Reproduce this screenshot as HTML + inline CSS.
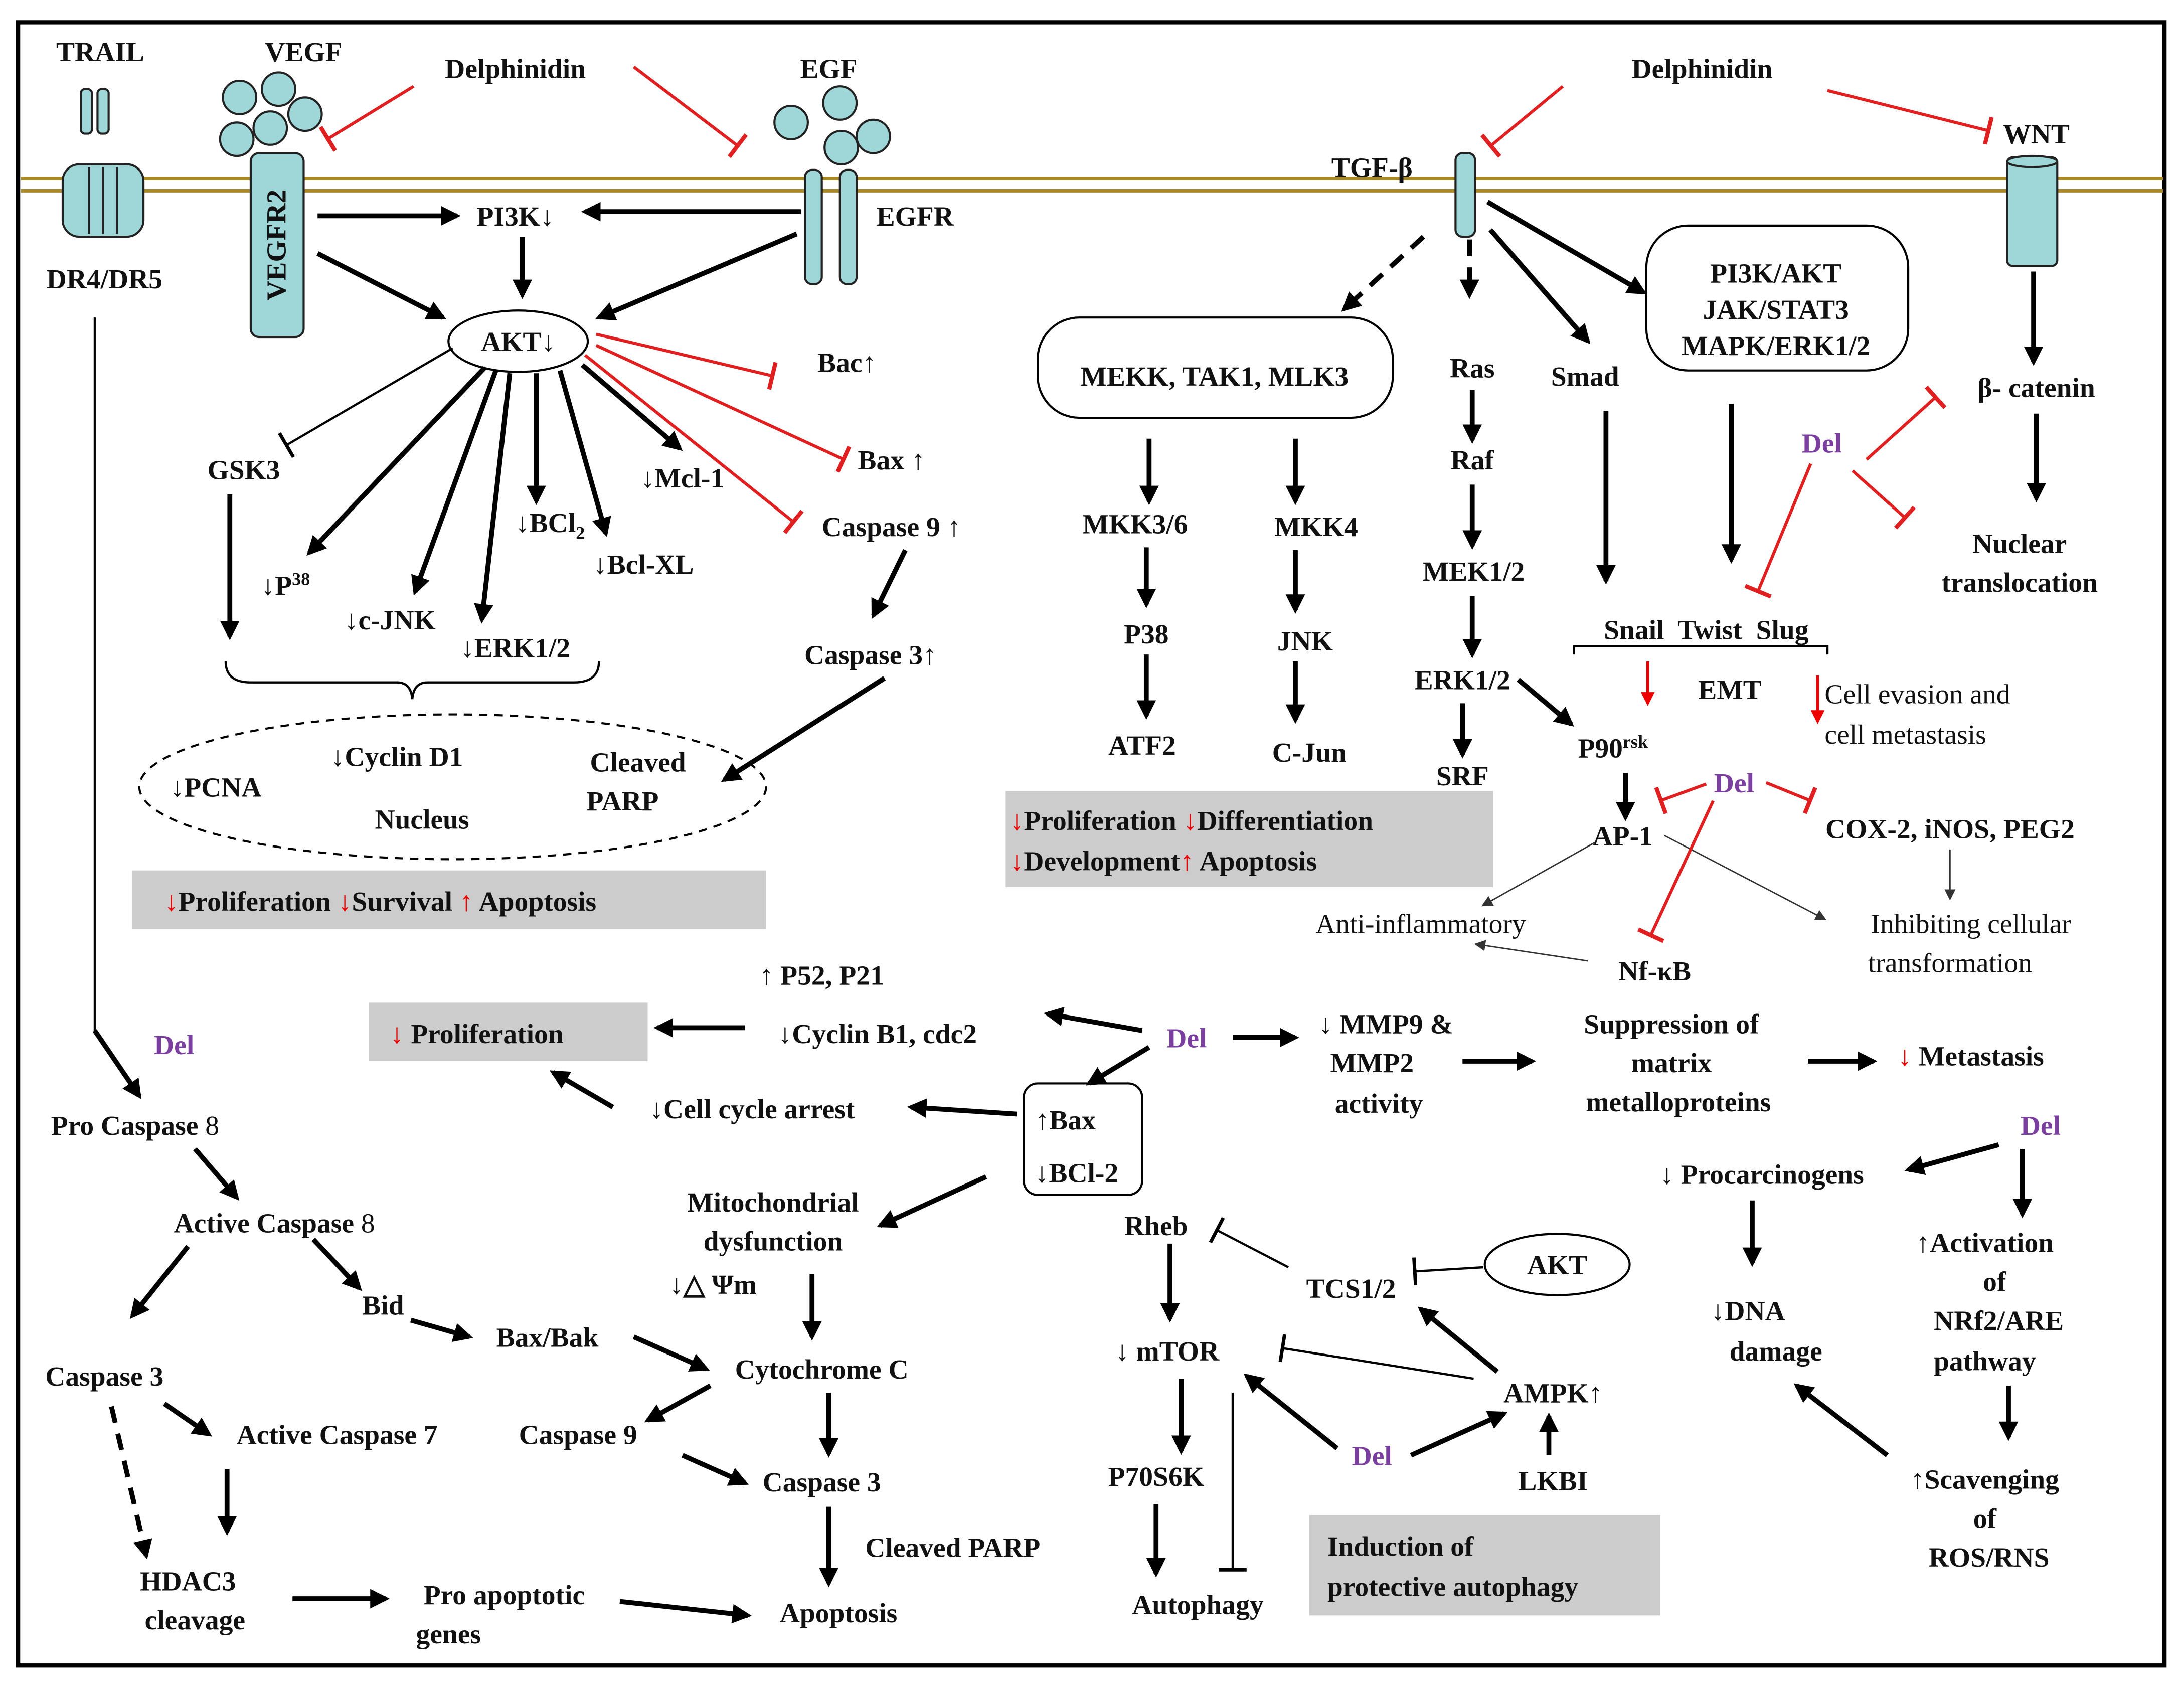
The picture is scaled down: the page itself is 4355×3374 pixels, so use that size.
<!DOCTYPE html>
<html><head><meta charset="utf-8"><style>
html,body{margin:0;padding:0;background:#fff}
svg{display:block}
text{font-family:"Liberation Serif",serif;font-weight:bold;font-size:20px;fill:#111}
.n{font-weight:normal}
.p{fill:#7b3fa0}
.r{fill:#e00}
.b{stroke:#000;stroke-width:3.5;fill:none}
.t{stroke:#e02020;stroke-width:2.2;fill:none}
.k{stroke:#000;stroke-width:1.6;fill:none}
.g{stroke:#333;stroke-width:1;fill:none}
</style></head><body>
<svg width="4355" height="3374" viewBox="0 0 1568 1215" preserveAspectRatio="none" xmlns="http://www.w3.org/2000/svg">
<defs>
<marker id="a" viewBox="0 0 10 10" refX="8" refY="5" markerWidth="4" markerHeight="4" orient="auto" markerUnits="strokeWidth"><path d="M0,0L10,5L0,10z" fill="#000"/></marker>
<marker id="ag" viewBox="0 0 10 10" refX="8" refY="5" markerWidth="8" markerHeight="8" orient="auto" markerUnits="strokeWidth"><path d="M0,0L10,5L0,10z" fill="#333"/></marker>
<marker id="ra" viewBox="0 0 10 10" refX="8" refY="5" markerWidth="5" markerHeight="5" orient="auto" markerUnits="strokeWidth"><path d="M0,0L10,5L0,10z" fill="#e00"/></marker>
<marker id="tr" viewBox="0 0 4 20" refX="2" refY="10" markerWidth="4" markerHeight="20" orient="auto" markerUnits="userSpaceOnUse"><rect x="0" y="0" width="3" height="20" fill="#e02020"/></marker>
<marker id="tk" viewBox="0 0 4 20" refX="2" refY="10" markerWidth="4" markerHeight="20" orient="auto" markerUnits="userSpaceOnUse"><rect x="0" y="0" width="2.5" height="20" fill="#000"/></marker>
</defs>
<rect x="0" y="0" width="1568" height="1215" fill="#fff"/>
<rect x="13" y="16" width="1541" height="1180" fill="none" stroke="#000" stroke-width="3"/>
<line x1="15" y1="128" x2="1553" y2="128" stroke="#a8892a" stroke-width="2.5"/>
<line x1="15" y1="137" x2="1553" y2="137" stroke="#a8892a" stroke-width="2.5"/>

<g fill="#9fd6d8" stroke="#222" stroke-width="1.5">
<rect x="58" y="64" width="8" height="32" rx="3"/><rect x="70" y="64" width="8" height="32" rx="3"/>
<rect x="45" y="118" width="58" height="52" rx="12"/>
<circle cx="172" cy="70" r="12"/><circle cx="200" cy="64" r="12"/><circle cx="219" cy="82" r="12"/><circle cx="194" cy="92" r="12"/><circle cx="170" cy="100" r="12"/>
<rect x="180" y="110" width="38" height="132" rx="6"/>
<circle cx="568" cy="88" r="12"/><circle cx="603" cy="74" r="12"/><circle cx="627" cy="98" r="12"/><circle cx="604" cy="106" r="12"/>
<rect x="578" y="122" width="12" height="82" rx="5"/><rect x="603" y="122" width="12" height="82" rx="5"/>
<rect x="1045" y="110" width="14" height="60" rx="5"/>
<rect x="1441" y="113" width="36" height="78" rx="4"/>
</g>
<line x1="64" y1="120" x2="64" y2="168" stroke="#222" stroke-width="1.5"/><line x1="74" y1="120" x2="74" y2="168" stroke="#222" stroke-width="1.5"/><line x1="84" y1="120" x2="84" y2="168" stroke="#222" stroke-width="1.5"/>
<ellipse cx="1459" cy="116" rx="18" ry="4" fill="#9fd6d8" stroke="#222" stroke-width="1.5"/>
<text x="205" y="176" text-anchor="middle" transform="rotate(-90 205 176)">VEGFR2</text>

<text x="72" y="44" text-anchor="middle">TRAIL</text>
<text x="218" y="44" text-anchor="middle">VEGF</text>
<text x="370" y="56" text-anchor="middle">Delphinidin</text>
<text x="595" y="56" text-anchor="middle">EGF</text>
<text x="1222" y="56" text-anchor="middle">Delphinidin</text>
<text x="1462" y="103" text-anchor="middle">WNT</text>
<text x="985" y="127" text-anchor="middle">TGF-β</text>
<text x="75" y="207" text-anchor="middle">DR4/DR5</text>
<text x="370" y="162" text-anchor="middle">PI3K↓</text>
<text x="657" y="162" text-anchor="middle">EGFR</text>
<ellipse cx="372" cy="245" rx="50" ry="22" fill="#fff" stroke="#000" stroke-width="1.5"/>
<text x="372" y="252" text-anchor="middle">AKT↓</text>
<text x="608" y="267" text-anchor="middle">Bac↑</text>
<text x="640" y="337" text-anchor="middle">Bax ↑</text>
<text x="640" y="385" text-anchor="middle">Caspase 9 ↑</text>
<text x="490" y="350" text-anchor="middle">↓Mcl-1</text>
<text x="175" y="344" text-anchor="middle">GSK3</text>
<text x="395" y="382" text-anchor="middle">↓BCl<tspan font-size="13" dy="5">2</tspan></text>
<text x="462" y="412" text-anchor="middle">↓Bcl-XL</text>
<text x="205" y="427" text-anchor="middle">↓P<tspan font-size="13" dy="-7">38</tspan></text>
<text x="280" y="452" text-anchor="middle">↓c-JNK</text>
<text x="370" y="472" text-anchor="middle">↓ERK1/2</text>
<text x="625" y="477" text-anchor="middle">Caspase 3↑</text>
<path d="M162,475 Q162,490 180,490 L285,490 Q295,490 296,502 Q297,490 307,490 L412,490 Q430,490 430,475" class="k"/>
<ellipse cx="325" cy="565" rx="225" ry="52" fill="none" stroke="#000" stroke-width="1.5" stroke-dasharray="6,5"/>
<text x="285" y="550" text-anchor="middle">↓Cyclin D1</text>
<text x="155" y="572" text-anchor="middle">↓PCNA</text>
<text x="303" y="595" text-anchor="middle">Nucleus</text>
<text x="458" y="554" text-anchor="middle">Cleaved</text>
<text x="447" y="582" text-anchor="middle">PARP</text>
<rect x="95" y="625" width="455" height="42" fill="#ccc"/>
<text x="118" y="654"><tspan class="r">↓</tspan>Proliferation <tspan class="r">↓</tspan>Survival <tspan class="r">↑</tspan> Apoptosis</text>

<rect x="745" y="228" width="255" height="72" rx="30" fill="#fff" stroke="#000" stroke-width="1.5"/>
<text x="872" y="277" text-anchor="middle">MEKK, TAK1, MLK3</text>
<text x="815" y="383" text-anchor="middle">MKK3/6</text>
<text x="945" y="385" text-anchor="middle">MKK4</text>
<text x="823" y="462" text-anchor="middle">P38</text>
<text x="937" y="467" text-anchor="middle">JNK</text>
<text x="820" y="542" text-anchor="middle">ATF2</text>
<text x="940" y="547" text-anchor="middle">C-Jun</text>
<rect x="722" y="568" width="350" height="69" fill="#ccc"/>
<text x="725" y="596"><tspan class="r">↓</tspan>Proliferation <tspan class="r">↓</tspan>Differentiation</text>
<text x="725" y="625"><tspan class="r">↓</tspan>Development<tspan class="r">↑</tspan> Apoptosis</text>

<text x="1057" y="271" text-anchor="middle">Ras</text>
<text x="1057" y="337" text-anchor="middle">Raf</text>
<text x="1058" y="417" text-anchor="middle">MEK1/2</text>
<text x="1050" y="495" text-anchor="middle">ERK1/2</text>
<text x="1050" y="564" text-anchor="middle">SRF</text>
<text x="1158" y="544" text-anchor="middle">P90<tspan font-size="13" dy="-7">rsk</tspan></text>
<text x="1138" y="277" text-anchor="middle">Smad</text>
<rect x="1182" y="162" width="188" height="104" rx="30" fill="#fff" stroke="#000" stroke-width="1.5"/>
<text x="1275" y="203" text-anchor="middle" font-size="19">PI3K/AKT</text>
<text x="1275" y="229" text-anchor="middle" font-size="19">JAK/STAT3</text>
<text x="1275" y="255" text-anchor="middle" font-size="19">MAPK/ERK1/2</text>
<text x="1462" y="285" text-anchor="middle">β- catenin</text>
<text x="1308" y="325" text-anchor="middle" class="p">Del</text>
<text x="1450" y="397" text-anchor="middle">Nuclear</text>
<text x="1450" y="425" text-anchor="middle">translocation</text>
<text x="1225" y="459" text-anchor="middle" xml:space="preserve">Snail  Twist  Slug</text>
<path d="M1130,470 L1130,464 L1312,464 L1312,470" class="k"/>
<text x="1242" y="502" text-anchor="middle">EMT</text>
<text x="1310" y="505" class="n">Cell evasion and</text>
<text x="1310" y="534" class="n">cell metastasis</text>
<text x="1245" y="569" text-anchor="middle" class="p">Del</text>
<text x="1165" y="607" text-anchor="middle">AP-1</text>
<text x="1400" y="602" text-anchor="middle">COX-2, iNOS, PEG2</text>
<text x="1020" y="670" text-anchor="middle" class="n">Anti-inflammatory</text>
<text x="1415" y="670" text-anchor="middle" class="n">Inhibiting cellular</text>
<text x="1400" y="698" text-anchor="middle" class="n">transformation</text>
<text x="1188" y="704" text-anchor="middle">Nf-κB</text>

<text x="590" y="707" text-anchor="middle">↑ P52, P21</text>
<rect x="265" y="720" width="200" height="42" fill="#ccc"/>
<text x="280" y="749"><tspan class="r">↓</tspan> Proliferation</text>
<text x="630" y="749" text-anchor="middle">↓Cyclin B1, cdc2</text>
<text x="852" y="752" text-anchor="middle" class="p">Del</text>
<text x="995" y="742" text-anchor="middle">↓ MMP9  &amp;</text>
<text x="985" y="770" text-anchor="middle">MMP2</text>
<text x="990" y="799" text-anchor="middle">activity</text>
<text x="1200" y="742" text-anchor="middle">Suppression of</text>
<text x="1200" y="770" text-anchor="middle">matrix</text>
<text x="1205" y="798" text-anchor="middle">metalloproteins</text>
<text x="1415" y="765" text-anchor="middle"><tspan class="r">↓</tspan> Metastasis</text>
<text x="540" y="803" text-anchor="middle">↓Cell cycle arrest</text>
<rect x="735" y="778" width="85" height="80" rx="10" fill="none" stroke="#000" stroke-width="1.5"/>
<text x="765" y="811" text-anchor="middle">↑Bax</text>
<text x="773" y="849" text-anchor="middle">↓BCl-2</text>

<text x="125" y="757" text-anchor="middle" class="p">Del</text>
<text x="97" y="815" text-anchor="middle">Pro Caspase <tspan class="n">8</tspan></text>
<text x="197" y="885" text-anchor="middle">Active Caspase <tspan class="n">8</tspan></text>
<text x="275" y="944" text-anchor="middle">Bid</text>
<text x="393" y="967" text-anchor="middle">Bax/Bak</text>
<text x="75" y="995" text-anchor="middle">Caspase 3</text>
<text x="242" y="1037" text-anchor="middle">Active Caspase 7</text>
<text x="135" y="1142" text-anchor="middle">HDAC3</text>
<text x="140" y="1170" text-anchor="middle">cleavage</text>
<text x="362" y="1152" text-anchor="middle">Pro apoptotic</text>
<text x="322" y="1180" text-anchor="middle">genes</text>
<text x="602" y="1165" text-anchor="middle">Apoptosis</text>
<text x="684" y="1118" text-anchor="middle">Cleaved PARP</text>
<text x="590" y="1071" text-anchor="middle">Caspase 3</text>
<text x="415" y="1037" text-anchor="middle">Caspase 9</text>
<text x="590" y="990" text-anchor="middle">Cytochrome C</text>
<text x="555" y="870" text-anchor="middle">Mitochondrial</text>
<text x="555" y="898" text-anchor="middle">dysfunction</text>
<text x="512" y="929" text-anchor="middle">↓△ Ψm</text>

<text x="830" y="887" text-anchor="middle">Rheb</text>
<text x="970" y="932" text-anchor="middle">TCS1/2</text>
<ellipse cx="1118" cy="908" rx="52" ry="22" fill="#fff" stroke="#000" stroke-width="1.5"/>
<text x="1118" y="915" text-anchor="middle">AKT</text>
<text x="838" y="977" text-anchor="middle">↓ mTOR</text>
<text x="1115" y="1007" text-anchor="middle">AMPK↑</text>
<text x="830" y="1067" text-anchor="middle">P70S6K</text>
<text x="985" y="1052" text-anchor="middle" class="p">Del</text>
<text x="1115" y="1070" text-anchor="middle">LKBI</text>
<text x="860" y="1159" text-anchor="middle">Autophagy</text>
<rect x="940" y="1088" width="252" height="72" fill="#ccc"/>
<text x="953" y="1117">Induction of</text>
<text x="953" y="1146">protective autophagy</text>

<text x="1465" y="815" text-anchor="middle" class="p">Del</text>
<text x="1265" y="850" text-anchor="middle">↓ Procarcinogens</text>
<text x="1425" y="899" text-anchor="middle">↑Activation</text>
<text x="1432" y="927" text-anchor="middle">of</text>
<text x="1435" y="955" text-anchor="middle">NRf2/ARE</text>
<text x="1425" y="984" text-anchor="middle">pathway</text>
<text x="1255" y="948" text-anchor="middle">↓DNA</text>
<text x="1275" y="977" text-anchor="middle">damage</text>
<text x="1425" y="1069" text-anchor="middle">↑Scavenging</text>
<text x="1425" y="1097" text-anchor="middle">of</text>
<text x="1428" y="1125" text-anchor="middle">ROS/RNS</text>

<g class="b" marker-end="url(#a)">
<line x1="228" y1="155" x2="328" y2="155"/>
<line x1="575" y1="152" x2="420" y2="152"/>
<line x1="375" y1="170" x2="375" y2="212"/>
<line x1="228" y1="182" x2="318" y2="228"/>
<line x1="572" y1="168" x2="430" y2="228"/>
<line x1="348" y1="264" x2="222" y2="397"/>
<line x1="356" y1="266" x2="298" y2="425"/>
<line x1="366" y1="268" x2="346" y2="445"/>
<line x1="385" y1="268" x2="385" y2="360"/>
<line x1="402" y1="266" x2="435" y2="383"/>
<line x1="418" y1="262" x2="488" y2="322"/>
<line x1="165" y1="355" x2="165" y2="457"/>
<line x1="650" y1="395" x2="627" y2="442"/>
<line x1="635" y1="487" x2="520" y2="560"/>
<line x1="1070" y1="165" x2="1140" y2="245"/>
<line x1="1068" y1="145" x2="1180" y2="210"/>
<line x1="825" y1="315" x2="825" y2="360"/>
<line x1="930" y1="315" x2="930" y2="360"/>
<line x1="823" y1="393" x2="823" y2="434"/>
<line x1="930" y1="395" x2="930" y2="438"/>
<line x1="823" y1="470" x2="823" y2="514"/>
<line x1="930" y1="475" x2="930" y2="517"/>
<line x1="1057" y1="280" x2="1057" y2="316"/>
<line x1="1057" y1="348" x2="1057" y2="392"/>
<line x1="1057" y1="428" x2="1057" y2="470"/>
<line x1="1050" y1="505" x2="1050" y2="542"/>
<line x1="1090" y1="488" x2="1128" y2="520"/>
<line x1="1167" y1="555" x2="1167" y2="587"/>
<line x1="1153" y1="295" x2="1153" y2="417"/>
<line x1="1243" y1="290" x2="1243" y2="402"/>
<line x1="1460" y1="195" x2="1460" y2="260"/>
<line x1="1462" y1="297" x2="1462" y2="358"/>
<line x1="820" y1="740" x2="752" y2="728"/>
<line x1="825" y1="752" x2="782" y2="778"/>
<line x1="885" y1="745" x2="930" y2="745"/>
<line x1="535" y1="738" x2="472" y2="738"/>
<line x1="440" y1="795" x2="397" y2="770"/>
<line x1="730" y1="800" x2="654" y2="795"/>
<line x1="708" y1="845" x2="632" y2="880"/>
<line x1="1050" y1="762" x2="1100" y2="762"/>
<line x1="1298" y1="762" x2="1345" y2="762"/>
<line x1="68" y1="740" x2="100" y2="787"/>
<line x1="140" y1="825" x2="170" y2="860"/>
<line x1="135" y1="895" x2="95" y2="945"/>
<line x1="225" y1="890" x2="258" y2="925"/>
<line x1="295" y1="948" x2="337" y2="960"/>
<line x1="455" y1="960" x2="507" y2="983"/>
<line x1="118" y1="1008" x2="150" y2="1030"/>
<line x1="163" y1="1055" x2="163" y2="1100"/>
<line x1="210" y1="1148" x2="277" y2="1148"/>
<line x1="445" y1="1150" x2="537" y2="1160"/>
<line x1="583" y1="915" x2="583" y2="960"/>
<line x1="510" y1="995" x2="465" y2="1020"/>
<line x1="595" y1="1000" x2="595" y2="1044"/>
<line x1="490" y1="1045" x2="535" y2="1065"/>
<line x1="595" y1="1082" x2="595" y2="1137"/>
<line x1="840" y1="893" x2="840" y2="947"/>
<line x1="848" y1="990" x2="848" y2="1042"/>
<line x1="830" y1="1080" x2="830" y2="1130"/>
<line x1="1075" y1="985" x2="1020" y2="940"/>
<line x1="960" y1="1040" x2="895" y2="988"/>
<line x1="1013" y1="1045" x2="1080" y2="1015"/>
<line x1="1112" y1="1045" x2="1112" y2="1017"/>
<line x1="1435" y1="822" x2="1370" y2="840"/>
<line x1="1452" y1="825" x2="1452" y2="872"/>
<line x1="1258" y1="862" x2="1258" y2="907"/>
<line x1="1442" y1="995" x2="1442" y2="1032"/>
<line x1="1355" y1="1045" x2="1290" y2="995"/>
</g>
<g class="b" stroke-dasharray="12,8" marker-end="url(#a)">
<line x1="1022" y1="170" x2="965" y2="222"/>
<line x1="1055" y1="172" x2="1055" y2="212"/>
<line x1="80" y1="1010" x2="105" y2="1117"/>
</g>
<line x1="68" y1="228" x2="68" y2="742" stroke="#000" stroke-width="1.5"/>
<g stroke="#e00" stroke-width="2" marker-end="url(#ra)">
<line x1="1183" y1="475" x2="1183" y2="505"/>
<line x1="1305" y1="485" x2="1305" y2="518"/>
</g>
<g class="g" marker-end="url(#ag)">
<line x1="1145" y1="605" x2="1065" y2="650"/>
<line x1="1195" y1="600" x2="1310" y2="660"/>
<line x1="1140" y1="690" x2="1060" y2="678"/>
<line x1="1400" y1="610" x2="1400" y2="645"/>
</g>
<g class="t" marker-end="url(#tr)">
<line x1="297" y1="62" x2="235" y2="100"/>
<line x1="455" y1="48" x2="530" y2="105"/>
<line x1="1122" y1="62" x2="1070" y2="105"/>
<line x1="1312" y1="65" x2="1428" y2="94"/>
<line x1="428" y1="240" x2="555" y2="270"/>
<line x1="428" y1="248" x2="606" y2="330"/>
<line x1="420" y1="255" x2="570" y2="375"/>
<line x1="1340" y1="330" x2="1390" y2="285"/>
<line x1="1330" y1="338" x2="1368" y2="372"/>
<line x1="1300" y1="333" x2="1262" y2="425"/>
<line x1="1225" y1="563" x2="1192" y2="575"/>
<line x1="1268" y1="562" x2="1300" y2="575"/>
<line x1="1230" y1="575" x2="1185" y2="672"/>
</g>
<g class="k" stroke-width="2" marker-end="url(#tk)">
<line x1="325" y1="250" x2="205" y2="320"/>
<line x1="885" y1="1000" x2="885" y2="1128"/>
<line x1="925" y1="910" x2="873" y2="883"/>
<line x1="1065" y1="910" x2="1015" y2="913"/>
<line x1="1058" y1="990" x2="920" y2="968"/>
</g>
</svg>
</body></html>
